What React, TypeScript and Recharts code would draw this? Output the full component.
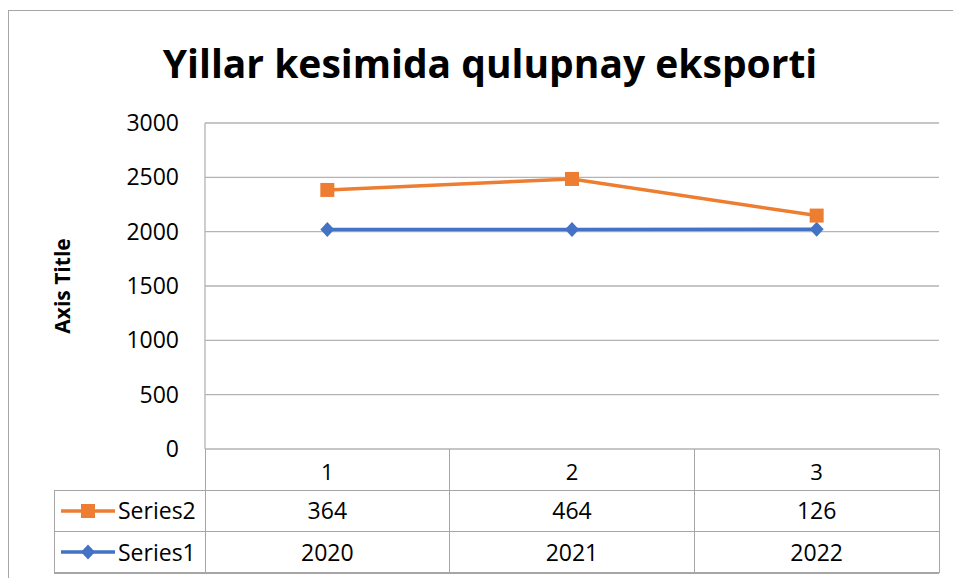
import { ComposedChart, Area, XAxis, YAxis, CartesianGrid } from 'recharts'

const categories = ['1', '2', '3']
const series1 = [2020, 2021, 2022]
const series2 = [364, 464, 126]
const yTicks = [0, 500, 1000, 1500, 2000, 2500, 3000]

const ORANGE = '#ED7D31'
const BLUE = '#4472C4'
const GRID = '#B3B3B3'
const FONT = '"Open Sans", "Liberation Sans", sans-serif'

const W = 953
const H = 578
const plotLeft = 205
const plotRight = 939
const plotTop = 123
const plotBottom = 449
const rowH = 41.3
const tableLeft = 54

const chartData = categories.map((c, i) => ({ cat: c, s1: series1[i], s2: series2[i] }))

const SquareDot = (props: any) => {
  const { cx, cy } = props
  if (cx == null || cy == null) return null
  return <rect x={cx - 7} y={cy - 7} width={14} height={14} fill={ORANGE} />
}

const DiamondDot = (props: any) => {
  const { cx, cy } = props
  if (cx == null || cy == null) return null
  return <path d={`M${cx},${cy - 7.5} L${cx + 7},${cy} L${cx},${cy + 7.5} L${cx - 7},${cy} Z`} fill={BLUE} />
}

function LegendKey({ color, square }: { color: string; square: boolean }) {
  return (
    <svg width={56} height={20} style={{ display: 'block' }}>
      <line x1={1} y1={10} x2={55} y2={10} stroke={color} strokeWidth={3.5} />
      {square ? (
        <rect x={21} y={3} width={14} height={14} fill={color} />
      ) : (
        <path d="M28,2.5 L35,10 L28,17.5 L21,10 Z" fill={color} />
      )}
    </svg>
  )
}

export default function App() {
  const band = (plotRight - plotLeft) / categories.length
  const pad = band / 2
  const lineColor = '#A6A6A6'
  const rows = [
    { name: 'Series2', values: series2, color: ORANGE, square: true },
    { name: 'Series1', values: series1, color: BLUE, square: false },
  ]
  const hLine = (y: number, x1: number, x2: number, key: string) => (
    <div key={key} style={{ position: 'absolute', left: x1, top: y - 0.5, width: x2 - x1, height: 1.3, background: lineColor }} />
  )
  const vLine = (x: number, y1: number, y2: number, key: string) => (
    <div key={key} style={{ position: 'absolute', left: x - 0.5, top: y1, width: 1.3, height: y2 - y1, background: lineColor }} />
  )
  const tableBottom = plotBottom + rowH * 3

  return (
    <div style={{ position: 'absolute', left: 0, top: 0, width: W, height: H, overflow: 'hidden', background: '#fff', fontFamily: FONT }}>
      <div style={{ position: 'absolute', left: 8, top: 10, width: 1000, height: 700, border: '1.5px solid #A6A6A6' }} />
      <div style={{ position: 'absolute', left: 0, width: 980, top: 36, textAlign: 'center', fontSize: 39, fontWeight: 700, color: '#000' }}>
        Yillar kesimida qulupnay eksporti
      </div>
      <div
        style={{
          position: 'absolute', left: 62, top: 286, transform: 'translate(-50%, -50%) rotate(-90deg)',
          fontSize: 21, fontWeight: 700, whiteSpace: 'nowrap', color: '#000',
        }}
      >
        Axis Title
      </div>
      <div style={{ position: 'absolute', left: 0, top: 0 }}>
        <ComposedChart
          width={W}
          height={H}
          data={chartData}
          margin={{ top: plotTop, right: W - plotRight, left: plotLeft - 80, bottom: H - plotBottom - 41 }}
        >
          <CartesianGrid horizontal vertical={false} stroke={GRID} strokeWidth={1.3} />
          <XAxis
            dataKey="cat"
            height={41}
            padding={{ left: pad, right: pad }}
            axisLine={false}
            tickLine={false}
            tickSize={0}
            tickMargin={15}
            tick={{ fill: '#000', fontSize: 22, fontFamily: FONT }}
          />
          <YAxis
            width={80}
            domain={[0, 3000]}
            ticks={yTicks}
            axisLine={{ stroke: GRID, strokeWidth: 1.3 }}
            tickLine={false}
            tickSize={0}
            tickMargin={26}
            tick={{ fill: '#000', fontSize: 23, fontFamily: FONT }}
          />
          <Area
            type="linear"
            dataKey="s1"
            stackId="a"
            stroke={BLUE}
            strokeWidth={3.5}
            fill="none"
            fillOpacity={0}
            dot={<DiamondDot />}
            activeDot={false}
            isAnimationActive={false}
          />
          <Area
            type="linear"
            dataKey="s2"
            stackId="a"
            stroke={ORANGE}
            strokeWidth={3.5}
            fill="none"
            fillOpacity={0}
            dot={<SquareDot />}
            activeDot={false}
            isAnimationActive={false}
          />
        </ComposedChart>
      </div>
      {hLine(plotBottom + rowH, tableLeft, plotRight, 'h1')}
      {hLine(plotBottom + rowH * 2, tableLeft, plotRight, 'h2')}
      {hLine(tableBottom, tableLeft, plotRight, 'h3')}
      {vLine(tableLeft, plotBottom + rowH, tableBottom, 'v0')}
      {[0, 1, 2, 3].map(i => vLine(plotLeft + band * i, plotBottom, tableBottom, 'v' + (i + 1)))}
      {rows.map((r, ri) => {
        const top = plotBottom + rowH * (ri + 1)
        return (
          <div key={r.name}>
            <div style={{ position: 'absolute', left: tableLeft + 6, top: top + rowH / 2 - 10 }}>
              <LegendKey color={r.color} square={r.square} />
            </div>
            <div style={{ position: 'absolute', left: 118, top, height: rowH, lineHeight: rowH + 'px', fontSize: 23, color: '#000' }}>
              {r.name}
            </div>
            {r.values.map((v, i) => (
              <div
                key={i}
                style={{
                  position: 'absolute', left: plotLeft + band * i, width: band, top, height: rowH,
                  lineHeight: rowH + 'px', textAlign: 'center', fontSize: 23, color: '#000',
                }}
              >
                {v}
              </div>
            ))}
          </div>
        )
      })}
    </div>
  )
}
